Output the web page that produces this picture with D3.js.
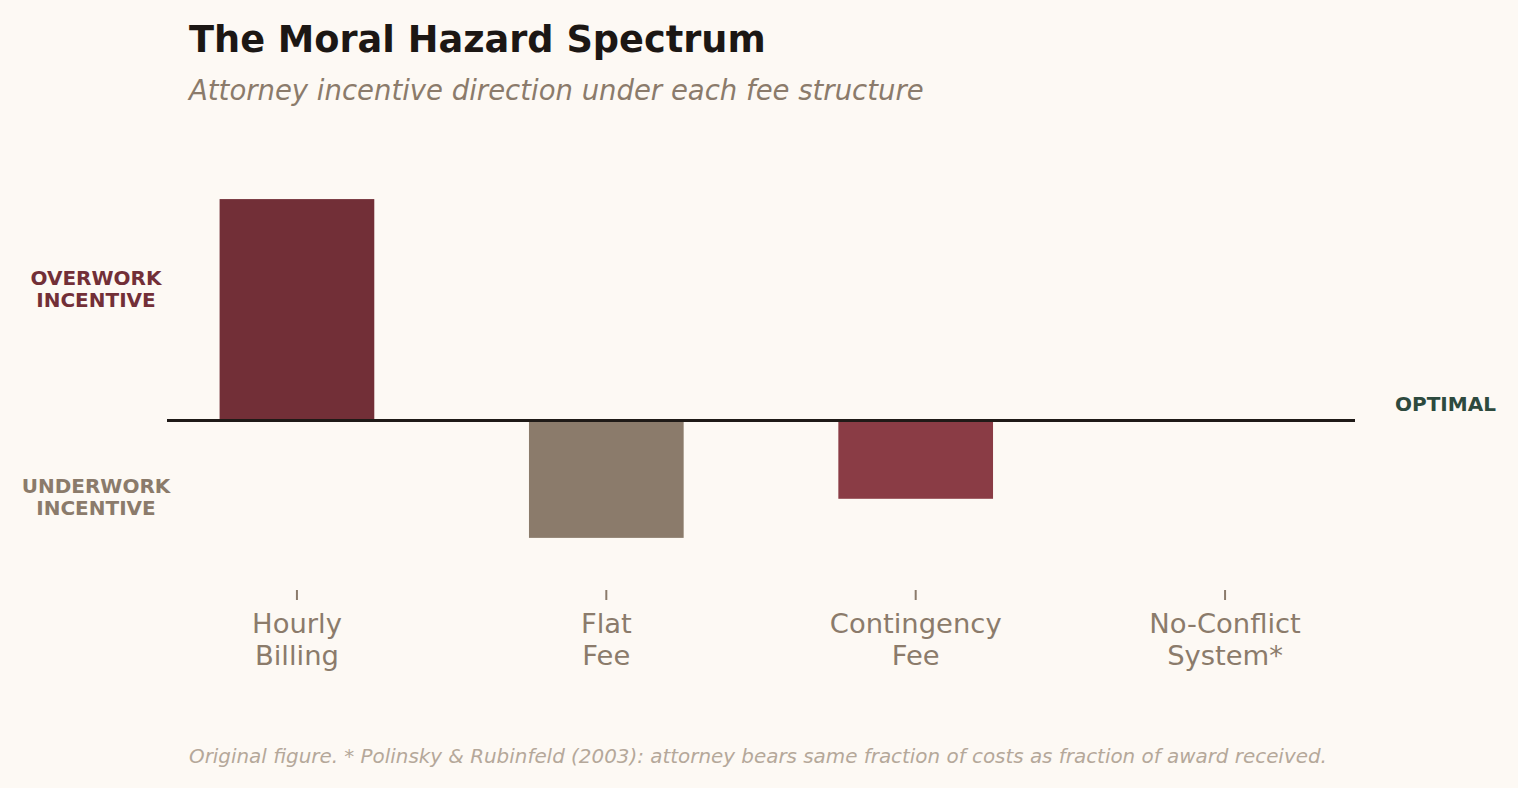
<!DOCTYPE html>
<html>
<head>
<meta charset="utf-8">
<script src="https://cdn.jsdelivr.net/npm/d3@7"></script>
<style>
  html, body { margin: 0; padding: 0; background: #fdf9f4; }
  svg { display: block; font-family: "DejaVu Sans", sans-serif; }
</style>
</head>
<body>
<div id="chart_container"></div>
<script>
// -- DATA -- //
const categories = ["Hourly\nBilling", "Flat\nFee", "Contingency\nFee", "No-Conflict\nSystem*"];
const incentive = [0.85, -0.45, -0.30, 0.0];
const barColors = ["#722f37", "#8b7b6b", "#8a3c45", "#8a3c45"];
const yDomain = [-0.65, 1.0];

const width = 1518;
const height = 788;

// plot area, matched to the picture
const margin = { left: 167, right: 163, top: 160, bottom: 198 };

let svg = d3.select("#chart_container")
  .append("svg")
  .attr("width", width)
  .attr("height", height);

svg.append("rect")
  .attr("width", width)
  .attr("height", height)
  .attr("fill", "#fdf9f4");

const x = d3.scaleBand()
  .domain(categories)
  .range([margin.left, width - margin.right])
  .paddingInner(0.5)
  .paddingOuter(0.17);

const y = d3.scaleLinear()
  .domain(yDomain)
  .range([height - margin.bottom, margin.top]);

// bars
svg.append("g")
  .selectAll("rect")
  .data(categories)
  .join("rect")
  .attr("x", (d) => x(d))
  .attr("width", x.bandwidth())
  .attr("y", (d, i) => y(Math.max(0, incentive[i])))
  .attr("height", (d, i) => Math.abs(y(incentive[i]) - y(0)))
  .attr("fill", (d, i) => barColors[i]);

// the "optimal" zero line
svg.append("line")
  .attr("x1", margin.left)
  .attr("x2", width - margin.right)
  .attr("y1", y(0))
  .attr("y2", y(0))
  .attr("stroke", "#1f1a17")
  .attr("stroke-width", 3);

// x axis: ticks only, no domain line
const xAxis = svg.append("g")
  .attr("transform", "translate(0," + (height - margin.bottom) + ")")
  .call(d3.axisBottom(x).tickSize(10).tickPadding(6).tickFormat(""))
  .attr("font-family", "DejaVu Sans, sans-serif");
xAxis.select(".domain").remove();
xAxis.selectAll(".tick line")
  .attr("stroke", "#8b7b6b")
  .attr("stroke-width", 2);

// two-line tick labels
xAxis.selectAll(".tick")
  .append("text")
  .attr("fill", "#8b7b6b")
  .attr("text-anchor", "middle")
  .style("font-family", "'DejaVu Sans', sans-serif")
  .style("font-size", "27.4px")
  .selectAll("tspan")
  .data((d) => d.split("\n"))
  .join("tspan")
  .attr("x", 0)
  .attr("y", (d, i) => 43 + i * 32)
  .text((d) => d);

// side labels
function sideLabel(lines, xPos, yPos, color, anchor) {
  svg.append("text")
    .attr("fill", color)
    .attr("text-anchor", anchor)
    .style("font-size", "20px")
    .style("font-weight", "bold")
    .selectAll("tspan")
    .data(lines)
    .join("tspan")
    .attr("x", xPos)
    .attr("y", (d, i) => yPos + i * 22)
    .text((d) => d);
}
sideLabel(["OVERWORK", "INCENTIVE"], 96, 285, "#722f37", "middle");
sideLabel(["UNDERWORK", "INCENTIVE"], 96, 493, "#8b7b6b", "middle");
sideLabel(["OPTIMAL"], 1395, 411, "#2d4a3e", "start");

// titles
svg.append("text")
  .attr("x", 189)
  .attr("y", 52)
  .attr("fill", "#1c1714")
  .style("font-size", "36.7px")
  .style("font-weight", "bold")
  .text("The Moral Hazard Spectrum");

svg.append("text")
  .attr("x", 189)
  .attr("y", 100)
  .attr("fill", "#8b7b6b")
  .style("font-size", "27.5px")
  .style("font-style", "italic")
  .text("Attorney incentive direction under each fee structure");

// footnote
svg.append("text")
  .attr("x", 189)
  .attr("y", 763)
  .attr("fill", "#b5a89a")
  .style("font-size", "19.9px")
  .style("font-style", "italic")
  .text("Original figure. * Polinsky & Rubinfeld (2003): attorney bears same fraction of costs as fraction of award received.");
</script>
</body>
</html>
